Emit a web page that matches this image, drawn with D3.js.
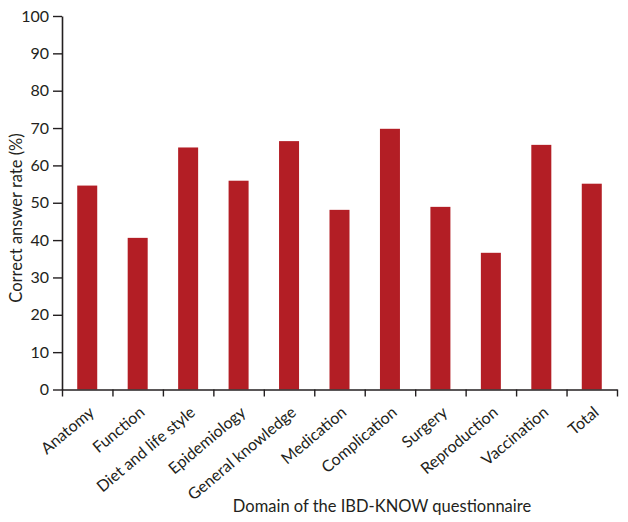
<!DOCTYPE html>
<html><head><meta charset="utf-8">
<script src="https://cdn.jsdelivr.net/npm/d3@7"></script>
<style>body{margin:0;background:#fff;} text{font-family:Lato, "Open Sans", sans-serif; fill:#231f20;}</style>
</head><body>
<svg id="c" width="628" height="522"></svg>
<script>
const categories = ["Anatomy","Function","Diet and life style","Epidemiology","General knowledge","Medication","Complication","Surgery","Reproduction","Vaccination","Total"];
const values = [54.6, 40.6, 64.8, 55.9, 66.5, 48.1, 69.8, 48.9, 36.6, 65.5, 55.1];
const yTicks = [0,10,20,30,40,50,60,70,80,90,100];
const yTitle = "Correct answer rate (%)";
const xTitle = "Domain of the IBD-KNOW questionnaire";

(function(){
const svg = d3.select("#c");
const mLeft = 62, mRight = 617, mTop = 16, mBottom = 389.5;
const xb = d3.scaleLinear().domain([0, categories.length]).range([mLeft, mRight]);
const y = d3.scaleLinear().domain([0,100]).range([mBottom, mTop]);
const ink = "#231f20";

svg.selectAll("rect.bar").data(values).join("rect")
  .attr("class","bar")
  .attr("x",(d,i)=>xb(i+0.5)-10).attr("width",20)
  .attr("y",d=>y(d)).attr("height",d=>y(0)-y(d))
  .attr("fill","#b31e25");

const ya = svg.append("g").attr("transform",`translate(${mLeft},0)`)
  .call(d3.axisLeft(y).tickValues(yTicks).tickSize(9).tickPadding(4).tickSizeOuter(0));
ya.select(".domain").attr("stroke",ink).attr("stroke-width",1.6);
ya.selectAll(".tick line").attr("stroke",ink).attr("stroke-width",1.4);
ya.selectAll(".tick text").style("font-size","16px").style("font-family","Lato, sans-serif")
  .style("fill",ink).attr("dy","0.32em");

const xa = svg.append("g").attr("transform",`translate(0,${mBottom})`)
  .call(d3.axisBottom(xb).tickValues(d3.range(categories.length+1)).tickSize(7).tickFormat("").tickSizeOuter(0));
xa.select(".domain").attr("stroke",ink).attr("stroke-width",1.6);
xa.selectAll(".tick line").attr("stroke",ink).attr("stroke-width",1.4);

svg.append("g").selectAll("text").data(categories).join("text")
  .attr("transform",(d,i)=>`translate(${xb(i+0.5)+1},${mBottom+16}) rotate(-40)`)
  .attr("text-anchor","end").attr("dy","0.7em")
  .style("font-size","16px").text(d=>d);

svg.append("text").attr("x",382).attr("y",512).attr("text-anchor","middle")
  .style("font-size","16.5px").text(xTitle);
svg.append("text").attr("transform","translate(22,218) rotate(-90)").attr("text-anchor","middle")
  .style("font-size","16.5px").text(yTitle);
})();
</script>
</body></html>
